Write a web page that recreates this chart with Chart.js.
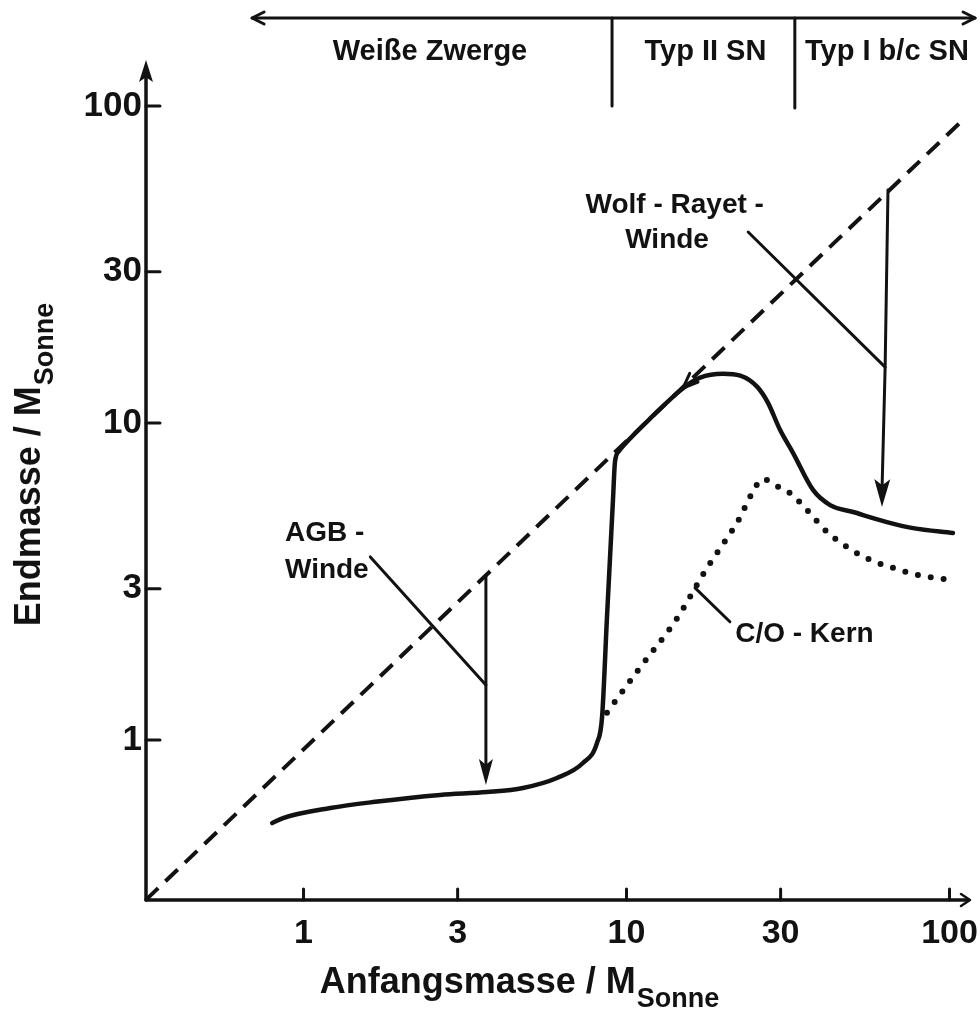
<!DOCTYPE html>
<html lang="de">
<head>
<meta charset="utf-8">
<title>Endmasse gegen Anfangsmasse</title>
<script src="https://cdn.jsdelivr.net/npm/chart.js@4.4.1/dist/chart.umd.min.js"></script>
<style>
  html, body { margin: 0; padding: 0; background: #fff; }
  canvas { display: block; }
</style>
</head>
<body>
<canvas id="chart" width="980" height="1015"></canvas>
<script>
// Endmasse eines Sterns als Funktion der Anfangsmasse (beides in Sonnenmassen)
const initialMass = [0.80, 0.864, 1.21, 1.64, 2.65, 3.70, 4.78, 6.09, 7.33, 8.10, 8.40, 8.70, 9.08, 9.21, 9.48, 9.89, 11.8, 15.0, 16.9, 19.9, 22.5, 25.4, 27.4, 29.9, 32.8, 37.8, 42.7, 50.3, 64.0, 77.1, 102.5];
const finalMass   = [0.547, 0.567, 0.610, 0.637, 0.671, 0.685, 0.706, 0.759, 0.846, 0.978, 1.18, 2.44, 5.72, 7.53, 8.16, 8.59, 10.3, 12.9, 13.9, 14.3, 14.1, 13.0, 11.6, 9.50, 8.04, 6.15, 5.51, 5.24, 4.87, 4.66, 4.50];

// Masse des C/O-Kerns
const coreInitial = [8.70, 11.0, 14.3, 17.75, 20.5, 22.5, 24.1, 26.5, 28.8, 32.1, 36.2, 41.8, 48.2, 56.8, 66.9, 79.3, 100.3];
const coreMass    = [1.22, 1.69, 2.41, 3.49, 4.34, 5.05, 5.84, 6.66, 6.37, 6.01, 5.32, 4.53, 4.06, 3.70, 3.49, 3.32, 3.20];

// Endmasse = Anfangsmasse (kein Massenverlust)
const diagonalX = [0.325, 111.7];
const diagonalY = [0.313, 91.7];

const tickValues = [1, 3, 10, 30, 100];
const xMin = 0.3253, xMax = 114.1;
const yMin = 0.3128, yMax = 131.8;

// Endstadien oben: Bereichsgrenzen in Anfangsmasse
const bandEdges = [0.693, 9.02, 33.2, 120];
const bandLabels = ['Weiße Zwerge', 'Typ II SN', 'Typ I b/c SN'];

// Massenverlust-Pfeile: oben, Knick, Spitze; Zeiger vom Text zum Knick
const agbArrowX = [3.67, 3.67, 3.67];
const agbArrowY = [3.31, 1.49, 0.721];
const agbPointer = [1.61, 3.78];
const wrArrowX = [64.5, 63.2, 61.8];
const wrArrowY = [54.3, 15.0, 5.43];
const wrPointer = [23.8, 40.05];
const corePointerX = [16.3, 20.9];
const corePointerY = [3.02, 2.36];
const diagArrowTip = [14.96, 12.89];

const notes = [
  { text: 'AGB -', x: 0.876, y: 4.50, align: 'left' },
  { text: 'Winde', x: 0.876, y: 3.44, align: 'left' },
  { text: 'Wolf - Rayet -', x: 14.1, y: 48.7, align: 'center' },
  { text: 'Winde', x: 13.35, y: 37.8, align: 'center' },
  { text: 'C/O - Kern', x: 21.7, y: 2.16, align: 'left' },
];

const ink = '#121212';
const textFont = '"Liberation Sans", Arial, sans-serif';

const pts = (xs, ys) => xs.map((x, i) => ({ x, y: ys[i] }));

function filledHead(ctx, x, y, angle, len, half) {
  ctx.save();
  ctx.translate(x, y);
  ctx.rotate(angle);
  ctx.beginPath();
  ctx.moveTo(0, 0);
  ctx.lineTo(-len, -half);
  ctx.lineTo(-len * 0.78, 0);
  ctx.lineTo(-len, half);
  ctx.closePath();
  ctx.fill();
  ctx.restore();
}

function openHead(ctx, x, y, angle, len, half) {
  ctx.save();
  ctx.translate(x, y);
  ctx.rotate(angle);
  ctx.beginPath();
  ctx.moveTo(-len, -half);
  ctx.lineTo(0, 0);
  ctx.lineTo(-len, half);
  ctx.stroke();
  ctx.restore();
}

function polyline(ctx, p) {
  ctx.beginPath();
  p.forEach(([x, y], i) => (i ? ctx.lineTo(x, y) : ctx.moveTo(x, y)));
  ctx.stroke();
}

const decorations = {
  id: 'decorations',
  afterDraw(chart) {
    const { ctx, chartArea } = chart;
    const { left, right, top, bottom } = chartArea;
    const xs = chart.scales.x, ys = chart.scales.y;
    const px = v => xs.getPixelForValue(v);
    const py = v => ys.getPixelForValue(v);

    ctx.save();
    ctx.strokeStyle = ink;
    ctx.fillStyle = ink;
    ctx.lineCap = 'round';
    ctx.lineJoin = 'round';

    // Achsen
    ctx.lineWidth = 3.5;
    polyline(ctx, [[left, bottom], [left, top + 6]]);
    filledHead(ctx, left, top - 8, -Math.PI / 2, 22, 7);
    polyline(ctx, [[left, bottom], [right, bottom]]);
    ctx.lineWidth = 2.5;
    openHead(ctx, right + 2, bottom, 0, 9, 6);

    // Teilstriche nach innen
    ctx.lineWidth = 3;
    tickValues.forEach(v => {
      polyline(ctx, [[px(v), bottom], [px(v), bottom - 11]]);
      polyline(ctx, [[left, py(v)], [left + 14, py(v)]]);
    });

    // Achsentitel mit tiefgestelltem "Sonne"
    ctx.textBaseline = 'alphabetic';
    ctx.textAlign = 'left';
    const main = 'bold 36px ' + textFont, sub = 'bold 27px ' + textFont;
    ctx.font = main;
    const xt = 'Anfangsmasse / M';
    const wMain = ctx.measureText(xt).width;
    ctx.font = sub;
    const wSub = ctx.measureText('Sonne').width;
    const x0 = 519 - (wMain + wSub) / 2;
    ctx.font = main;
    ctx.fillText(xt, x0, 993);
    ctx.font = sub;
    ctx.fillText('Sonne', x0 + wMain + 1, 1007);

    ctx.save();
    ctx.translate(40, 465);
    ctx.rotate(-Math.PI / 2);
    ctx.font = main;
    const yt = 'Endmasse / M';
    const wY = ctx.measureText(yt).width;
    ctx.font = sub;
    const wYs = ctx.measureText('Sonne').width;
    const y0 = -(wY + wYs) / 2;
    ctx.font = main;
    ctx.fillText(yt, y0, 0);
    ctx.font = sub;
    ctx.fillText('Sonne', y0 + wY + 1, 13);
    ctx.restore();

    // Endstadien oben
    const bandY = 18;
    ctx.lineWidth = 3;
    const bx = bandEdges.map(px);
    polyline(ctx, [[bx[0], bandY], [bx[3], bandY]]);
    openHead(ctx, bx[0], bandY, Math.PI, 12, 6);
    openHead(ctx, bx[3], bandY, 0, 12, 6);
    polyline(ctx, [[bx[1], bandY], [bx[1], 106]]);
    polyline(ctx, [[bx[2], bandY], [bx[2], 108]]);
    ctx.font = 'bold 29px ' + textFont;
    ctx.textAlign = 'center';
    ctx.textBaseline = 'middle';
    bandLabels.forEach((t, i) => {
      const c = i === 0 ? 430 : (bx[i] + bx[i + 1]) / 2 + 2;
      ctx.fillText(t, c, 52);
    });

    // Massenverlust-Pfeile
    ctx.lineWidth = 3;
    const agb = agbArrowX.map((x, i) => [px(x), py(agbArrowY[i])]);
    polyline(ctx, [agb[0], [agb[2][0], agb[2][1] - 16]]);
    filledHead(ctx, agb[2][0], agb[2][1], Math.PI / 2, 26, 7);
    polyline(ctx, [[px(agbPointer[0]), py(agbPointer[1])], agb[1]]);

    const wr = wrArrowX.map((x, i) => [px(x), py(wrArrowY[i])]);
    polyline(ctx, [wr[0], wr[1], [wr[2][0], wr[2][1] - 16]]);
    filledHead(ctx, wr[2][0], wr[2][1], Math.PI / 2 + 0.01, 28, 8);
    polyline(ctx, [[px(wrPointer[0]), py(wrPointer[1])], wr[1]]);

    polyline(ctx, corePointerX.map((x, i) => [px(x), py(corePointerY[i])]));

    // Pfeilspitze am Ende der Diagonalen
    const tx = px(diagArrowTip[0]), ty = py(diagArrowTip[1]);
    const ang = Math.atan2(py(diagonalY[0]) - py(diagonalY[1]), px(diagonalX[0]) - px(diagonalX[1]));
    openHead(ctx, tx, ty, ang, 15, 6);

    // Beschriftungen
    ctx.font = 'bold 28px ' + textFont;
    ctx.textBaseline = 'middle';
    notes.forEach(n => {
      ctx.textAlign = n.align;
      ctx.fillText(n.text, px(n.x), py(n.y));
    });
    ctx.restore();
  }
};

const tickStyle = (size, padding) => ({
  padding,
  color: ink,
  autoSkip: false,
  maxRotation: 0,
  font: { family: textFont, size, weight: 'bold' },
  callback: v => String(v),
});

new Chart(document.getElementById('chart'), {
  type: 'line',
  data: {
    datasets: [
      {
        label: 'Endmasse = Anfangsmasse',
        data: pts(diagonalX, diagonalY),
        borderColor: ink,
        borderWidth: 4,
        borderDash: [17, 10],
        pointRadius: 0,
        clip: false,
      },
      {
        label: 'C/O-Kern',
        data: pts(coreInitial, coreMass),
        borderColor: ink,
        borderWidth: 6,
        borderDash: [0, 13],
        borderCapStyle: 'round',
        cubicInterpolationMode: 'monotone',
        pointRadius: 0,
      },
      {
        label: 'Endmasse',
        data: pts(initialMass, finalMass),
        borderColor: ink,
        borderWidth: 4.5,
        borderCapStyle: 'round',
        borderJoinStyle: 'round',
        cubicInterpolationMode: 'monotone',
        pointRadius: 0,
      },
    ],
  },
  options: {
    responsive: false,
    animation: false,
    layout: { padding: { top: 68, right: 12, left: 0, bottom: 0 } },
    plugins: { legend: { display: false }, tooltip: { enabled: false } },
    scales: {
      x: {
        type: 'logarithmic',
        min: xMin,
        max: xMax,
        bounds: 'data',
        grid: { display: false, drawTicks: false },
        border: { display: false },
        afterBuildTicks: s => { s.ticks = tickValues.map(value => ({ value })); },
        afterFit: s => { s.height = 115; s.paddingLeft = 0; s.paddingRight = 0; },
        ticks: tickStyle(34, 13),
      },
      y: {
        type: 'logarithmic',
        min: yMin,
        max: yMax,
        bounds: 'data',
        grid: { display: false, drawTicks: false },
        border: { display: false },
        afterBuildTicks: s => { s.ticks = tickValues.map(value => ({ value })); },
        afterFit: s => { s.width = 146; s.paddingTop = 0; s.paddingBottom = 0; },
        ticks: tickStyle(35, 4),
      },
    },
  },
  plugins: [decorations],
});
</script>
</body>
</html>
